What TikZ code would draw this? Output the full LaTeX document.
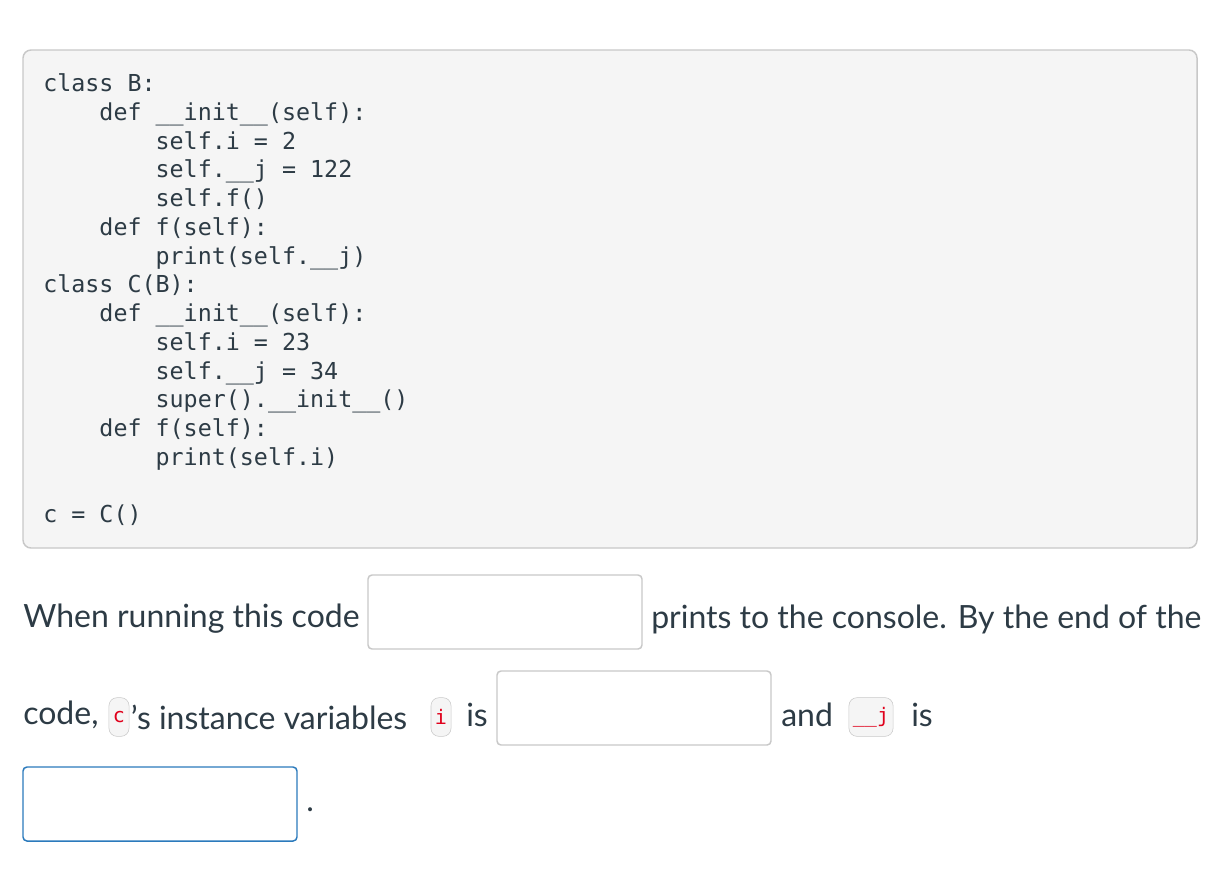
\documentclass[tikz,border=0pt]{standalone}
\usepackage{fontspec}
\setmainfont{Lato}
\setmonofont{DejaVu Sans Mono}
\usetikzlibrary{positioning}
\definecolor{codebg}{HTML}{F5F5F5}
\definecolor{codeline}{HTML}{C8C8C8}
\definecolor{txt}{HTML}{2D3B45}
\definecolor{chipred}{HTML}{E0001B}
\definecolor{inblue}{HTML}{2B7ABC}
\newcommand{\us}{\symbol{95}}
\tikzset{
	codeln/.style={anchor=base west, inner sep=0pt, font=\ttfamily\fontsize{17.5}{20}\selectfont, text=txt},
	prose/.style={anchor=west, inner sep=0pt, font=\fontsize{24}{28}\selectfont, text=txt},
	answer/.style={draw=codeline, line width=1.1pt, rounded corners=3pt, fill=white},
	chip/.style={draw=codeline, fill=codebg, rounded corners=6pt, inner xsep=3pt, minimum height=29pt,
		text=chipred, font=\ttfamily\fontsize{15}{17}\selectfont},
}
\begin{document}
\begin{tikzpicture}[x=0.75pt, y=-0.75pt]
	\useasboundingbox (0,0) rectangle (1216,886);
	\draw[codeline, fill=codebg, line width=1.1pt, rounded corners=6pt] (23,50) rectangle (1197,548);
	% code lines
	\node[codeln] (l1) at (43,91) {class B:};
	\node[codeln] (l2) at (43,120) {\ \ \ \ def \us\us init\us\us(self):};
	\node[codeln] (l3) at (43,149) {\ \ \ \ \ \ \ \ self.i = 2};
	\node[codeln] (l4) at (43,177) {\ \ \ \ \ \ \ \ self.\us\us j = 122};
	\node[codeln] (l5) at (43,206) {\ \ \ \ \ \ \ \ self.f()};
	\node[codeln] (l6) at (43,235) {\ \ \ \ def f(self):};
	\node[codeln] (l7) at (43,264) {\ \ \ \ \ \ \ \ print(self.\us\us j)};
	\node[codeln] (l8) at (43,292) {class C(B):};
	\node[codeln] (l9) at (43,321) {\ \ \ \ def \us\us init\us\us(self):};
	\node[codeln] (l10) at (43,350) {\ \ \ \ \ \ \ \ self.i = 23};
	\node[codeln] (l11) at (43,379) {\ \ \ \ \ \ \ \ self.\us\us j = 34};
	\node[codeln] (l12) at (43,407) {\ \ \ \ \ \ \ \ super().\us\us init\us\us()};
	\node[codeln] (l13) at (43,436) {\ \ \ \ def f(self):};
	\node[codeln] (l14) at (43,465) {\ \ \ \ \ \ \ \ print(self.i)};
	\node[codeln] (l15) at (43,522) {c = C()};
	% question text
	\node[prose] (q1) at (23,619) {When running this code};
	\draw[answer] (368,575) rectangle (642,649);
	\node[prose] (q2) at (651,619) {prints to the console. By the end of the};
	\node[prose] (q3) at (23,715) {code,};
	\node[chip] (cc) at (119,717) {c};
	\node[prose, right=1pt of cc] (q4) {\symbol{39}s instance variables};
	\node[chip] (ci) at (441,717) {i};
	\node[prose] (q5) at (466,715) {is};
	\draw[answer] (497,671) rectangle (771,745);
	\node[prose] (q6) at (781,715) {and};
	\node[chip] (cj) at (871,717) {\us\us j};
	\node[prose] (q7) at (911,715) {is};
	\draw[answer, draw=inblue] (23,767) rectangle (297,841);
	\node[prose] (q8) at (306,810) {.};
\end{tikzpicture}
\end{document}
